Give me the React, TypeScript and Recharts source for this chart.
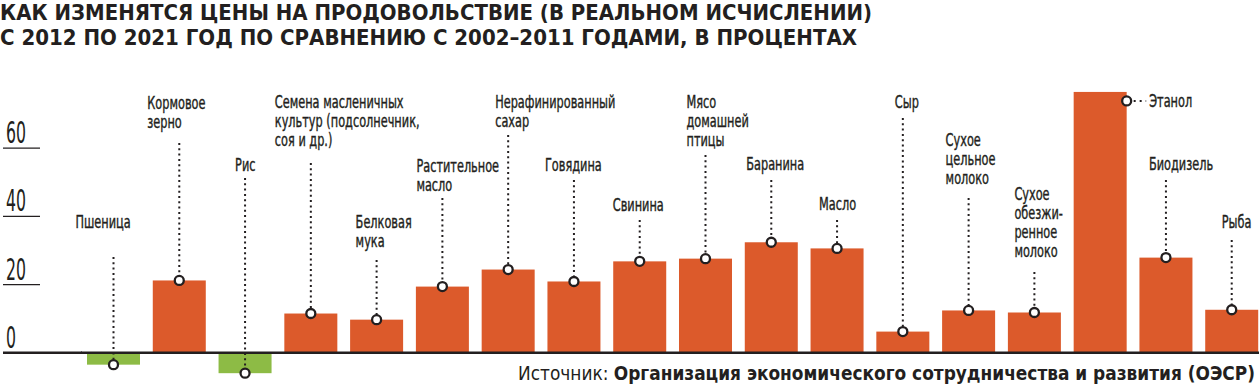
import { BarChart, Bar, XAxis, YAxis, ReferenceLine } from "recharts";

const categories = [
  "Пшеница", "Кормовое зерно", "Рис", "Семена масленичных культур", "Белковая мука",
  "Растительное масло", "Нерафинированный сахар", "Говядина", "Свинина", "Мясо домашней птицы",
  "Баранина", "Масло", "Сыр", "Сухое цельное молоко", "Сухое обезжиренное молоко",
  "Этанол", "Биодизель", "Рыба",
];

// label text as printed, line by line
const labelLines = [
  ["Пшеница"],
  ["Кормовое", "зерно"],
  ["Рис"],
  ["Семена масленичных", "культур (подсолнечник,", "соя и др.)"],
  ["Белковая", "мука"],
  ["Растительное", "масло"],
  ["Нерафинированный", "сахар"],
  ["Говядина"],
  ["Свинина"],
  ["Мясо", "домашней", "птицы"],
  ["Баранина"],
  ["Масло"],
  ["Сыр"],
  ["Сухое", "цельное", "молоко"],
  ["Сухое", "обезжи-", "ренное", "молоко"],
  ["Этанол"],
  ["Биодизель"],
  ["Рыба"],
];

const changes = [
  -3.5, 21.2, -6, 11.5, 9.7, 19.4, 24.4, 20.9, 26.8, 27.6,
  32.4, 30.6, 6.2, 12.4, 11.8, 76.5, 27.9, 12.6,
];

const yTicks = [0, 20, 40, 60];

const title1 = "КАК ИЗМЕНЯТСЯ ЦЕНЫ НА ПРОДОВОЛЬСТВИЕ (В РЕАЛЬНОМ ИСЧИСЛЕНИИ)";
const title2 = "С 2012 ПО 2021 ГОД ПО СРАВНЕНИЮ С 2002–2011 ГОДАМИ, В ПРОЦЕНТАХ";
const sourceLabel = "Источник: ";
const sourceName = "Организация экономического сотрудничества и развития (ОЭСР)";

// callout placement: text offset from bar centre, first baseline, where the dotted lead starts
const calloutLayout = [
  { dx: -38, base: 228, lead: 257 },
  { dx: -32, base: 109, lead: 143 },
  { dx: -10, base: 171, lead: 178 },
  { dx: -36, base: 108, lead: 163 },
  { dx: -21, base: 228, lead: 260 },
  { dx: -26, base: 172, lead: 198 },
  { dx: -13, base: 108, lead: 135 },
  { dx: -29, base: 171, lead: 180 },
  { dx: -27, base: 211, lead: 220 },
  { dx: -19, base: 108, lead: 155 },
  { dx: -25, base: 170, lead: 180 },
  { dx: -18, base: 210, lead: 220 },
  { dx: -8, base: 108, lead: 118 },
  { dx: -23, base: 146, lead: 198 },
  { dx: -20, base: 200, lead: 272 },
  { dx: 49, base: 108, lead: 0, side: true },
  { dx: -17, base: 170, lead: 180 },
  { dx: -10, base: 228, lead: 240 },
];

const ORANGE = "#dc5a2b";
const GREEN = "#8dbb45";
const INK = "#231f20";
const NARROW = "'DejaVu Sans Condensed', 'Liberation Sans Narrow', sans-serif";
const SQUEEZE = 0.7;

const data = categories.map((name, i) => ({ name, value: changes[i], idx: i }));

function Caption({ x, base, lines }: { x: number; base: number; lines: string[] }) {
  return (
    <g transform={`translate(${x},0) scale(${SQUEEZE},1)`}>
      <text fontFamily={NARROW} fontSize={18} fill={INK} stroke={INK} strokeWidth={0.4}>
        {lines.map((ln, k) => (
          <tspan key={k} x={0} y={base + k * 19}>{ln}</tspan>
        ))}
      </text>
    </g>
  );
}

function BarWithCallout(props: any) {
  const { x, y, width, height, payload } = props;
  const i = payload.idx;
  const v = changes[i];
  const top = Math.min(y, y + height);
  const h = Math.abs(height);
  const cx = x + width / 2;
  const end = v < 0 ? top + h : top;
  const lay = calloutLayout[i];
  const lines = labelLines[i];

  if (lay.side) {
    const dotX = x + width;
    const dotY = top + 9;
    return (
      <g>
        <rect x={x} y={top} width={width} height={h} fill={ORANGE} />
        <line x1={dotX + 7} x2={cx + lay.dx - 3} y1={dotY} y2={dotY} stroke={INK} strokeWidth={2} strokeDasharray="2 4" />
        <circle cx={dotX} cy={dotY} r={4.5} fill="#fff" stroke={INK} strokeWidth={2.3} />
        <Caption x={cx + lay.dx} base={dotY + 6} lines={lines} />
      </g>
    );
  }

  return (
    <g>
      <rect x={x} y={top} width={width} height={h} fill={v < 0 ? GREEN : ORANGE} />
      <line x1={cx} x2={cx} y1={lay.lead} y2={end} stroke={INK} strokeWidth={2} strokeDasharray="2 3.3" />
      <circle cx={cx} cy={end} r={4.5} fill="#fff" stroke={INK} strokeWidth={2.3} />
      <Caption x={cx + lay.dx} base={lay.base} lines={lines} />
    </g>
  );
}

function YTick(props: any) {
  const { y, payload } = props;
  const v = payload.value;
  const s = String(v);
  return (
    <g>
      <line x1={3} x2={v === 0 ? 82 : 40} y1={y} y2={y} stroke={INK} strokeWidth={v === 0 ? 2.6 : 1.2} />
      <text x={6} y={y - 5} fontFamily={NARROW} fontSize={30} fill={INK} textLength={s.length * 10} lengthAdjust="spacingAndGlyphs">
        {s}
      </text>
    </g>
  );
}

export default function App() {
  return (
    <div style={{ position: "absolute", left: 0, top: 0, width: 1259, height: 386, overflow: "hidden", background: "#fff" }}>
      <BarChart width={1265} height={386} data={data} margin={{ top: 80, right: 0, bottom: 6, left: 0 }}>
        <XAxis dataKey="name" hide />
        <YAxis
          width={81}
          domain={[-8, 80]}
          ticks={yTicks}
          axisLine={false}
          tickLine={false}
          tick={<YTick />}
          interval={0}
          allowDataOverflow
        />
        <Bar dataKey="value" barSize={53} isAnimationActive={false} shape={(p: any) => <BarWithCallout {...p} />} />
        <ReferenceLine y={0} stroke={INK} strokeWidth={2.6} />
      </BarChart>
      <svg width={1259} height={50} style={{ position: "absolute", left: 0, top: 0 }}>
        <text x={0} y={20} fontFamily={NARROW} fontWeight={700} fontSize={22} fill={INK} textLength={872} lengthAdjust="spacingAndGlyphs">
          {title1}
        </text>
        <text x={0} y={45} fontFamily={NARROW} fontWeight={700} fontSize={22} fill={INK} textLength={857} lengthAdjust="spacingAndGlyphs">
          {title2}
        </text>
      </svg>
      <svg width={1259} height={30} style={{ position: "absolute", left: 0, top: 356 }}>
        <text x={518} y={24} fontFamily={NARROW} fontSize={19} fill={INK} textLength={737} lengthAdjust="spacingAndGlyphs">
          <tspan>{sourceLabel}</tspan>
          <tspan fontWeight={700}>{sourceName}</tspan>
        </text>
      </svg>
    </div>
  );
}
